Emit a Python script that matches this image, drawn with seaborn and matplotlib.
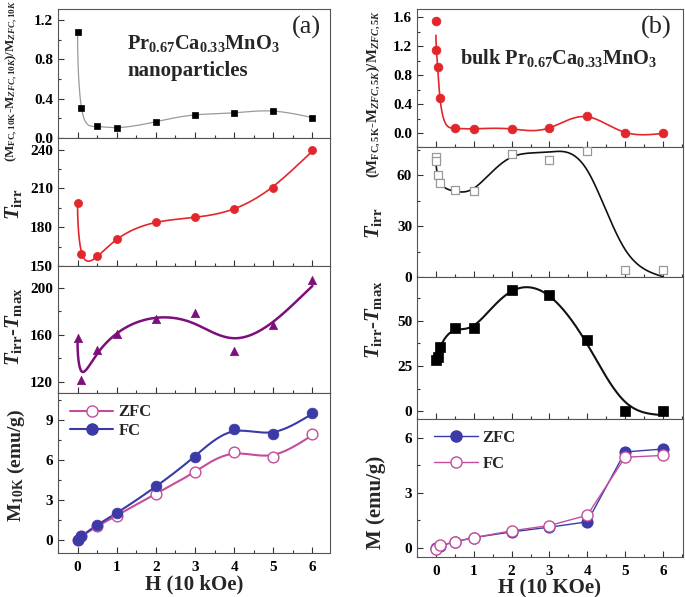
import numpy as np
import matplotlib
matplotlib.use("Agg")
import matplotlib.pyplot as plt
from matplotlib.lines import Line2D
from matplotlib.ticker import MultipleLocator, FormatStrFormatter
import seaborn as sns

# ---------------- data ----------------
# panel (a) nanoparticles, 10 K
H_a = [0, 0.1, 0.5, 1, 2, 3, 4, 5, 6]
dM_a = [1.08, 0.30, 0.12, 0.105, 0.165, 0.236, 0.253, 0.277, 0.206]
Tirr_a = [199, 159, 157.4, 171, 184, 188, 194, 210, 240]
dT_a = [157, 121.5, 147, 161, 173.7, 178.6, 146.6, 168.6, 206.3]
Mzfc_a = [0, 0.25, 1.0, 1.8, 3.45, 5.05, 6.6, 6.2, 7.9]
Mfc_a = [0, 0.25, 1.1, 2.0, 4.0, 6.2, 8.3, 7.9, 9.5]

# panel (b) bulk, 5 K
H_b1 = [0, 0, 0.05, 0.1, 0.5, 1, 2, 3, 4, 5, 6]
dM_b = [1.54, 1.15, 0.91, 0.49, 0.07, 0.06, 0.06, 0.065, 0.24, 0.0, 0.0]
H_b2 = [0, 0, 0.05, 0.1, 0.5, 1, 2, 3, 4, 5, 6]
Tirr_b = [70.4, 68.4, 60, 55.6, 51.3, 50.7, 72.2, 69, 74.2, 4.3, 4.3]
H_b3 = [0, 0.05, 0.1, 0.5, 1, 2, 3, 4, 5, 6]
dT_b = [28.6, 30.1, 35.6, 45.9, 45.9, 67, 64.2, 39.7, 0, 0]
H_b4 = [0, 0.1, 0.5, 1, 2, 3, 4, 5, 6]
Mzfc_b = [0, 0.09, 0.33, 0.56, 0.87, 1.13, 1.42, 5.24, 5.4]
Mfc_b = [-0.05, 0.13, 0.33, 0.56, 0.93, 1.22, 1.78, 4.95, 5.05]

xticks = [0, 1, 2, 3, 4, 5, 6]

# ---------------- style ----------------
sns.set_style("ticks")
plt.rcParams["font.family"] = ["Liberation Serif", "DejaVu Serif"]
plt.rcParams["font.weight"] = "bold"
plt.rcParams["mathtext.fontset"] = "custom"
plt.rcParams["mathtext.rm"] = "Liberation Serif:bold"
plt.rcParams["mathtext.bf"] = "Liberation Serif:bold"
plt.rcParams["mathtext.it"] = "Liberation Serif:bold:italic"

RED = "#e3262b"
PURPLE = "#7d0f7d"
PINK = "#c44d9a"
NAVY = "#3b3aa6"
GRAY = "#9a9a9a"

W, Hh = 685, 597
fig = plt.figure(figsize=(W / 100, Hh / 100), dpi=100)


def add_ax(l, t, r, b):
    return fig.add_axes([l / W, 1 - b / Hh, (r - l) / W, (b - t) / Hh])


def smooth_curve(x, y, lam, n=700):
    """Penalised (Whittaker) smoothing on a sqrt(H) grid."""
    u = np.sqrt(np.asarray(x, float))
    ug = np.linspace(0, np.sqrt(6), n)
    h = ug[1] - ug[0]
    idx = np.clip(np.round(u / h).astype(int), 0, n - 1)
    w = np.zeros(n)
    wy = np.zeros(n)
    np.add.at(w, idx, 1.0)
    np.add.at(wy, idx, np.asarray(y, float))
    D = np.diff(np.eye(n), 2, axis=0)
    z = np.linalg.solve(np.diag(w) + lam * D.T @ D, wy)
    return ug ** 2, z


def style_ax(ax, ylim, major, minor, bottom_labels=False, xlim=(-0.5, 6.45)):
    ax.set_xlim(*xlim)
    ax.set_ylim(*ylim)
    ax.xaxis.set_major_locator(MultipleLocator(1))
    ax.xaxis.set_minor_locator(MultipleLocator(0.5))
    ax.yaxis.set_major_locator(MultipleLocator(major))
    ax.yaxis.set_minor_locator(MultipleLocator(minor))
    ax.tick_params(which="both", direction="in", top=False, right=False,
                   labelsize=11, width=0.8, colors="#333333", labelcolor="black")
    ax.tick_params(which="major", length=4)
    ax.tick_params(which="minor", length=2)
    ax.tick_params(axis="x", labelbottom=bottom_labels, pad=6)
    for s in ax.spines.values():
        s.set_color("#555555")
        s.set_linewidth(0.8)
        s.set_visible(True)
    for lab in ax.get_xticklabels() + ax.get_yticklabels():
        lab.set_fontweight("bold")
    ax.set_xlabel("")
    ax.set_ylabel("")


def ftext(x, y, s, **kw):
    fig.text(x / W, 1 - y / Hh, s, **kw)


# ================= panel (a) =================
a1 = add_ax(58, 9, 330, 138)
a2 = add_ax(58, 138, 330, 266)
a3 = add_ax(58, 266, 330, 393)
a4 = add_ax(58, 393, 330, 553)

cx, cy = smooth_curve(H_a, dM_a, 3000)
sns.lineplot(x=cx, y=cy, ax=a1, color=GRAY, lw=0.9, estimator=None, sort=False)
sns.scatterplot(x=H_a, y=dM_a, ax=a1, marker="s", s=22, color="black",
                edgecolor="black", linewidth=0.5, zorder=3)
style_ax(a1, (0, 1.31), 0.4, 0.2)
a1.yaxis.set_major_formatter(FormatStrFormatter("%.1f"))

cx, cy = smooth_curve(H_a, Tirr_a, 20000)
sns.lineplot(x=cx, y=cy, ax=a2, color=RED, lw=1.2, estimator=None, sort=False)
sns.scatterplot(x=H_a, y=Tirr_a, ax=a2, marker="o", s=34, color=RED,
                edgecolor=RED, linewidth=0.5, zorder=3)
style_ax(a2, (150, 249), 30, 15)

cx, cy = smooth_curve(H_a, dT_a, 60000)
sns.lineplot(x=cx, y=cy, ax=a3, color=PURPLE, lw=1.8, estimator=None, sort=False)
sns.scatterplot(x=H_a, y=dT_a, ax=a3, marker="^", s=36, color=PURPLE,
                edgecolor=PURPLE, linewidth=0.5, zorder=3)
style_ax(a3, (110.5, 218.5), 40, 20)

cx, cy = smooth_curve(H_a, Mzfc_a, 5000)
sns.lineplot(x=cx, y=cy, ax=a4, color=PINK, lw=1.5, estimator=None, sort=False)
cx, cy = smooth_curve(H_a, Mfc_a, 5000)
sns.lineplot(x=cx, y=cy, ax=a4, color=NAVY, lw=1.5, estimator=None, sort=False)
sns.scatterplot(x=H_a, y=Mzfc_a, ax=a4, marker="o", s=60, color="white",
                edgecolor=PINK, linewidth=1.0, zorder=3)
sns.scatterplot(x=H_a, y=Mfc_a, ax=a4, marker="o", s=60, color=NAVY,
                edgecolor=NAVY, linewidth=0.5, zorder=4)
style_ax(a4, (-1.0, 11.0), 3, 1.5, bottom_labels=True)
a4.set_xticks(xticks)
a4.set_xlabel("H (10 kOe)", fontsize=15, fontweight="bold", labelpad=0)
h_zfc = Line2D([], [], color=PINK, lw=1.5, marker="o", ms=8,
               mfc="white", mec=PINK, mew=1.0)
h_fc = Line2D([], [], color=NAVY, lw=1.5, marker="o", ms=8,
              mfc=NAVY, mec=NAVY)
a4.legend([h_zfc, h_fc], ["ZFC", "FC"], loc="upper left", frameon=False,
          prop={"weight": "bold", "size": 12}, handlelength=2.6,
          handletextpad=0.3, labelspacing=0.15,
          bbox_to_anchor=(0.02, 0.97), borderaxespad=0)

# y labels (a)
ftext(12, 81, r"(M$_{\rm FC,10K}$-M$_{ZFC,10K}$)/M$_{ZFC,10K}$", rotation=90,
      ha="center", va="center", fontsize=9.4, fontweight="bold")
ftext(14, 204, r"$T_{\rm irr}$", rotation=90, ha="center", va="center",
      fontsize=15)
ftext(14, 327, r"$T_{\rm irr}$-$T_{\rm max}$", rotation=90, ha="center",
      va="center", fontsize=15)
ftext(16, 465, r"M$_{\rm 10K}$ (emu/g)", rotation=90, ha="center",
      va="center", fontsize=14, fontweight="bold")

ftext(127, 49, r"Pr$_{0.67}$Ca$_{0.33}$MnO$_3$", ha="left", va="baseline",
      fontsize=14.7, fontweight="bold")
ftext(127, 76, "nanoparticles", ha="left", va="baseline", fontsize=15,
      fontweight="bold")
ftext(306, 27, "(a)", ha="center", va="center", fontsize=19,
      fontweight="normal")

# ================= panel (b) =================
b1 = add_ax(417, 9, 683, 147)
b2 = add_ax(417, 147, 683, 277)
b3 = add_ax(417, 277, 683, 419)
b4 = add_ax(417, 419, 683, 557)
xl_b = (-0.5, 6.53)

cx, cy = smooth_curve(H_b1, dM_b, 2000)
sns.lineplot(x=cx, y=cy, ax=b1, color=RED, lw=1.2, estimator=None, sort=False)
sns.scatterplot(x=H_b1, y=dM_b, ax=b1, marker="o", s=40, color=RED,
                edgecolor=RED, linewidth=0.5, zorder=3)
style_ax(b1, (-0.19, 1.71), 0.4, 0.2, xlim=xl_b)
b1.yaxis.set_major_formatter(FormatStrFormatter("%.1f"))

cx, cy = smooth_curve(H_b2, Tirr_b, 18000)
sns.lineplot(x=cx, y=cy, ax=b2, color="#111111", lw=1.2, estimator=None,
             sort=False)
sns.scatterplot(x=H_b2, y=Tirr_b, ax=b2, marker="s", s=30, color="white",
                edgecolor="#999999", linewidth=0.9, zorder=3)
style_ax(b2, (0, 76.5), 30, 15, xlim=xl_b)

cx, cy = smooth_curve(H_b3, dT_b, 15000)
sns.lineplot(x=cx, y=cy, ax=b3, color="#111111", lw=1.5, estimator=None,
             sort=False)
sns.scatterplot(x=H_b3, y=dT_b, ax=b3, marker="s", s=55, color="black",
                edgecolor="black", linewidth=0.5, zorder=3)
style_ax(b3, (-4.4, 74.4), 25, 12.5, xlim=xl_b)

sns.lineplot(x=H_b4, y=Mzfc_b, ax=b4, color=NAVY, lw=1.0, marker="o",
             markersize=8, markerfacecolor=NAVY, markeredgecolor=NAVY,
             estimator=None, sort=False)
sns.lineplot(x=H_b4, y=Mfc_b, ax=b4, color=PINK, lw=1.0, marker="o",
             markersize=8, markerfacecolor="white", markeredgecolor=PINK,
             markeredgewidth=1.0, estimator=None, sort=False)
style_ax(b4, (-0.5, 7.04), 3, 1.5, bottom_labels=True, xlim=xl_b)
b4.set_xticks(xticks)
b4.set_xlabel("H (10 KOe)", fontsize=15, fontweight="bold", labelpad=0)
hb_zfc = Line2D([], [], color=NAVY, lw=1.0, marker="o", ms=8,
                mfc=NAVY, mec=NAVY)
hb_fc = Line2D([], [], color=PINK, lw=1.0, marker="o", ms=8,
               mfc="white", mec=PINK, mew=1.0)
b4.legend([hb_zfc, hb_fc], ["ZFC", "FC"], loc="upper left", frameon=False,
          prop={"weight": "bold", "size": 12}, handlelength=2.6,
          handletextpad=0.3, labelspacing=0.6,
          bbox_to_anchor=(0.04, 0.97), borderaxespad=0)

ftext(373, 94, r"(M$_{\rm FC,5K}$-M$_{ZFC,5K}$)/M$_{ZFC,5K}$", rotation=90,
      ha="center", va="center", fontsize=10.6, fontweight="bold")
ftext(374, 223, r"$T_{\rm irr}$", rotation=90, ha="center", va="center",
      fontsize=15)
ftext(374, 320, r"$T_{\rm irr}$-$T_{\rm max}$", rotation=90, ha="center",
      va="center", fontsize=15)
ftext(376, 502, "M (emu/g)", rotation=90, ha="center", va="center",
      fontsize=15, fontweight="bold")

ftext(460, 64, r"bulk Pr$_{0.67}$Ca$_{0.33}$MnO$_3$", ha="left",
      va="baseline", fontsize=14.7, fontweight="bold")
ftext(656, 27, "(b)", ha="center", va="center", fontsize=19,
      fontweight="normal")

fig.savefig("out.png", dpi=100)
